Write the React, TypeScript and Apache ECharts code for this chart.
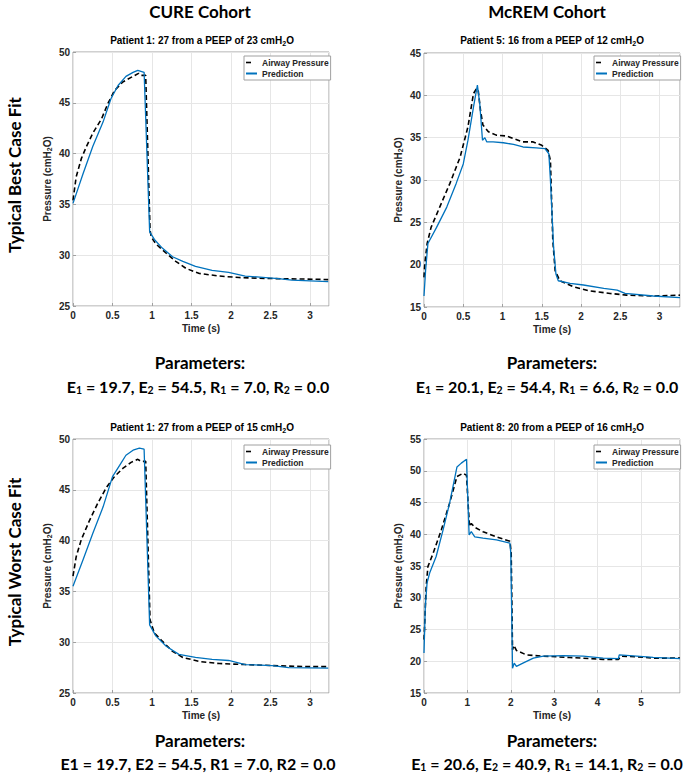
import React, { useEffect, useRef } from "react";
import * as echarts from "echarts";

// ---------- data ([time s, pressure cmH2O]) ----------
const cureBestAirway: [number, number][] = [
  [0, 35.4], [0.04, 37.7], [0.105, 39.5], [0.17, 40.7], [0.25, 42.0], [0.36, 43.4], [0.44, 44.9],
  [0.525, 46.2], [0.63, 47.05], [0.735, 47.5], [0.83, 47.9], [0.86, 47.7], [0.92, 47.7],
  [0.975, 32.5], [0.99, 31.8], [1.05, 31.1], [1.18, 30.2], [1.3, 29.4], [1.43, 28.7], [1.6, 28.2],
  [1.85, 27.95], [2.1, 27.8], [2.52, 27.7], [2.94, 27.65], [3.23, 27.6],
];
const cureBestPrediction: [number, number][] = [
  [0, 35.1], [0.126, 38.0], [0.25, 40.7], [0.38, 43.1], [0.48, 45.4], [0.57, 46.7], [0.67, 47.6],
  [0.76, 48.0], [0.82, 48.2], [0.9, 48.0], [0.97, 32.3], [1.03, 31.55], [1.13, 30.7], [1.26, 29.85],
  [1.39, 29.4], [1.55, 28.9], [1.76, 28.5], [1.97, 28.3], [2.18, 27.95], [2.44, 27.8], [2.6, 27.7],
  [2.77, 27.55], [3.23, 27.4],
];
const mcremBestAirway: [number, number][] = [
  [0, 18.5], [0.01, 20.1], [0.04, 22.5], [0.09, 24.4], [0.2, 26.8], [0.33, 29.6], [0.46, 32.7],
  [0.56, 36.3], [0.63, 40.2], [0.67, 40.8], [0.69, 40.6], [0.72, 38.2], [0.75, 36.5], [0.82, 35.7],
  [0.92, 35.3], [1.05, 35.2], [1.14, 34.9], [1.26, 34.5], [1.39, 34.5], [1.5, 34.1], [1.58, 33.5],
  [1.61, 32.3], [1.64, 22.9], [1.67, 19.3], [1.73, 18.1], [1.9, 17.4], [2.11, 16.9], [2.37, 16.6],
  [2.58, 16.4], [2.92, 16.3], [3.26, 16.4],
];
const mcremBestPrediction: [number, number][] = [
  [0, 16.3], [0.02, 19.3], [0.05, 22.5], [0.16, 24.4], [0.29, 26.8], [0.41, 29.6], [0.5, 31.9],
  [0.56, 34.7], [0.63, 38.6], [0.68, 41.2], [0.71, 39.0], [0.745, 34.7], [0.775, 35.0], [0.8, 34.5],
  [0.88, 34.5], [1.01, 34.4], [1.14, 34.2], [1.26, 33.9], [1.43, 33.8], [1.54, 33.7], [1.59, 33.1],
  [1.61, 30.0], [1.65, 22.1], [1.68, 18.9], [1.71, 18.1], [1.86, 17.8], [2.03, 17.6], [2.29, 17.2],
  [2.46, 17.0], [2.56, 16.6], [2.92, 16.3], [3.26, 16.1],
];
const cureWorstAirway: [number, number][] = [
  [0, 36.5], [0.04, 38.4], [0.105, 40.1], [0.21, 42.0], [0.315, 43.7], [0.42, 45.2], [0.525, 46.3],
  [0.63, 47.1], [0.735, 47.7], [0.82, 48.0], [0.86, 47.8], [0.92, 47.8], [0.975, 32.2], [1.03, 30.9],
  [1.13, 30.1], [1.26, 29.1], [1.39, 28.5], [1.6, 28.1], [1.85, 27.9], [2.18, 27.8], [2.52, 27.7],
  [2.94, 27.6], [3.23, 27.6],
];
const cureWorstPrediction: [number, number][] = [
  [0, 35.5], [0.126, 38.1], [0.25, 40.7], [0.38, 43.3], [0.5, 46.3], [0.59, 47.4], [0.67, 48.4],
  [0.76, 48.9], [0.84, 49.1], [0.9, 49.0], [0.97, 31.7], [1.05, 30.6], [1.18, 29.6], [1.34, 28.8],
  [1.55, 28.5], [1.76, 28.3], [1.97, 28.2], [2.18, 27.8], [2.52, 27.7], [2.73, 27.5], [3.23, 27.45],
];
const mcremWorstAirway: [number, number][] = [
  [0, 23.4], [0.02, 26.5], [0.05, 31.8], [0.09, 34.9], [0.21, 37.0], [0.4, 40.7], [0.59, 44.9],
  [0.76, 49.1], [0.9, 49.6], [0.98, 49.3], [1.02, 44.4], [1.05, 41.2], [1.09, 41.7], [1.17, 41.1],
  [1.36, 40.4], [1.67, 39.6], [1.98, 38.9], [2.01, 37.0], [2.04, 21.8], [2.07, 22.5], [2.13, 21.7],
  [2.36, 21.0], [2.75, 20.8], [3.36, 20.6], [4.13, 20.3], [4.48, 20.3], [4.55, 20.8], [4.9, 20.7],
  [5.28, 20.5], [5.9, 20.5],
];
const mcremWorstPrediction: [number, number][] = [
  [0, 21.3], [0.03, 28.6], [0.07, 32.3], [0.13, 33.9], [0.28, 36.5], [0.44, 40.7], [0.59, 44.9],
  [0.76, 50.6], [0.86, 51.2], [0.98, 51.8], [1.0, 47.5], [1.04, 39.9], [1.09, 40.4], [1.17, 39.6],
  [1.36, 39.4], [1.67, 39.1], [1.98, 38.6], [2.0, 37.0], [2.04, 18.9], [2.08, 19.7], [2.13, 19.2],
  [2.28, 19.7], [2.52, 20.5], [2.75, 20.8], [3.21, 20.9], [3.67, 20.8], [4.13, 20.5], [4.48, 20.4],
  [4.5, 21.0], [4.9, 20.8], [5.28, 20.6], [5.9, 20.4],
];

const columnTitles = ["CURE Cohort", "McREM Cohort"];
const rowTitles = ["Typical Best Case Fit", "Typical Worst Case Fit"];
const plotTitles = [
  "Patient 1: 27 from a PEEP of 23 cmH",
  "Patient 5: 16 from a PEEP of 12 cmH",
  "Patient 1: 27 from a PEEP of 15 cmH",
  "Patient 8: 20 from a PEEP of 16 cmH",
];
// parameters [E1, E2, R1, R2]
const params = [
  ["19.7", "54.5", "7.0", "0.0"],
  ["20.1", "54.4", "6.6", "0.0"],
  ["19.7", "54.5", "7.0", "0.0"],
  ["20.6", "40.9", "14.1", "0.0"],
];
const xMax = [3.24, 3.26, 3.24, 5.9];
const xInterval = [0.5, 0.5, 0.5, 1];
const yMin = [25, 15, 25, 15];
const yMax = [50, 45, 50, 55];
const seriesNames = ["Airway Pressure", "Prediction"];

const FONT = "'Liberation Sans', Arial, sans-serif";
const BIG = "Lato, 'Open Sans', sans-serif";
const AX = "#262626";
const BORDER = "#a0a0a0";

export default function App() {
  const ref = useRef<HTMLDivElement>(null);
  useEffect(() => {
    if (!ref.current) return;
    const chart = echarts.init(ref.current, undefined, { renderer: "svg" });

    const grids = [
      { left: 73, top: 52, width: 256, height: 254 },
      { left: 424, top: 53, width: 256, height: 254 },
      { left: 73, top: 439, width: 256, height: 254 },
      { left: 424, top: 439, width: 256, height: 254 },
    ];
    const legendPos = [
      { left: 244, top: 56 },
      { left: 594, top: 56 },
      { left: 244, top: 445 },
      { left: 594, top: 445 },
    ];
    const airway = [cureBestAirway, mcremBestAirway, cureWorstAirway, mcremWorstAirway];
    const pred = [cureBestPrediction, mcremBestPrediction, cureWorstPrediction, mcremWorstPrediction];

    const labelStyle = { color: AX, fontFamily: FONT, fontWeight: "bold" as const, fontSize: 10 };

    const xAxes = grids.map((_, i) => ({
      type: "value",
      gridIndex: i,
      min: 0,
      max: xMax[i],
      interval: xInterval[i],
      name: "Time (s)",
      nameLocation: "middle",
      nameGap: 17,
      nameTextStyle: { ...labelStyle },
      axisLine: { show: false },
      axisTick: { show: true, inside: true, length: 3, lineStyle: { color: BORDER } },
      axisLabel: { ...labelStyle, margin: 4, showMaxLabel: false },
      splitLine: { show: true, lineStyle: { color: "#e6e6e6", width: 1 } },
    }));
    const yAxes = grids.map((_, i) => ({
      type: "value",
      gridIndex: i,
      min: yMin[i],
      max: yMax[i],
      interval: 5,
      name: "{a|Pressure (cmH}{s|2}{a|O)}",
      nameLocation: "middle",
      nameRotate: 90,
      nameGap: 20,
      nameTextStyle: {
        rich: {
          a: { ...labelStyle },
          s: { ...labelStyle, fontSize: 7, padding: [5, 0, 0, 0] },
        },
      },
      axisLine: { show: false },
      axisTick: { show: true, inside: true, length: 3, lineStyle: { color: BORDER } },
      axisLabel: { ...labelStyle, margin: 3 },
      splitLine: { show: true, lineStyle: { color: "#e6e6e6", width: 1 } },
    }));

    const series: any[] = [];
    grids.forEach((_, i) => {
      series.push({
        name: seriesNames[0],
        type: "line",
        xAxisIndex: i,
        yAxisIndex: i,
        data: airway[i],
        symbol: "none",
        lineStyle: { color: "#000000", width: 1.6, type: [5, 3] },
        itemStyle: { color: "#000000" },
      });
      series.push({
        name: seriesNames[1],
        type: "line",
        xAxisIndex: i,
        yAxisIndex: i,
        data: pred[i],
        symbol: "none",
        lineStyle: { color: "#0072BD", width: 1.3 },
        itemStyle: { color: "#0072BD" },
      });
    });

    const legends = legendPos.map((p) => ({
      ...p,
      orient: "vertical",
      itemWidth: 11,
      itemHeight: 9,
      itemGap: 2,
      padding: [2, 2, 2, 1],
      backgroundColor: "#ffffff",
      borderColor: BORDER,
      borderWidth: 1,
      borderRadius: 0,
      selectedMode: false,
      itemStyle: { opacity: 0 },
      textStyle: { color: AX, fontFamily: FONT, fontWeight: "bold", fontSize: 8.5 },
      data: [
        { name: seriesNames[0], lineStyle: { type: [5, 20], width: 1.6 } },
        { name: seriesNames[1] },
      ],
    }));

    const graphics: any[] = [];
    const colX = [198, 547];
    const bigX = [200, 547];
    columnTitles.forEach((t, c) => {
      graphics.push({
        type: "text",
        x: bigX[c],
        y: 11,
        style: { text: t, fill: "#000", font: `bold 17px ${BIG}`, align: "center", verticalAlign: "middle" },
      });
    });
    const rowY = [175, 562];
    rowTitles.forEach((t, r) => {
      graphics.push({
        type: "text",
        x: 14,
        y: rowY[r],
        rotation: Math.PI / 2,
        style: { text: t, fill: "#000", font: `bold 17px ${BIG}`, align: "center", verticalAlign: "middle" },
      });
    });
    const subX = [202, 552, 202, 552];
    const subY = [40, 40, 427, 427];
    plotTitles.forEach((t, i) => {
      graphics.push({
        type: "text",
        x: subX[i],
        y: subY[i],
        style: {
          text: `{a|${t}}{s|2}{a|O}`,
          align: "center",
          verticalAlign: "middle",
          rich: {
            a: { fill: "#000", fontFamily: FONT, fontWeight: "bold", fontSize: 10 },
            s: { fill: "#000", fontFamily: FONT, fontWeight: "bold", fontSize: 7, padding: [6, 0, 0, 0] },
          },
        },
      });
    });
    const parY = [362, 362, 740, 740];
    const eY = [386, 386, 763, 763];
    params.forEach((p, i) => {
      const x = colX[i % 2];
      graphics.push({
        type: "text",
        x: i % 2 === 0 ? 200 : 552,
        y: parY[i],
        style: { text: "Parameters:", fill: "#000", font: `bold 17px ${BIG}`, align: "center", verticalAlign: "middle" },
      });
      const plain = i === 2;
      const sub = (n: string) => (plain ? `{t|${n}}` : `{s|${n}}`);
      const text =
        `{t|E}${sub("1")}{t| = ${p[0]}, E}${sub("2")}{t| = ${p[1]}, R}${sub("1")}{t| = ${p[2]}, R}${sub("2")}{t| = ${p[3]}}`;
      graphics.push({
        type: "text",
        x,
        y: eY[i],
        style: {
          text,
          align: "center",
          verticalAlign: "middle",
          rich: {
            t: { fill: "#000", fontFamily: BIG, fontWeight: "bold", fontSize: 16 },
            s: { fill: "#000", fontFamily: BIG, fontWeight: "bold", fontSize: 10.5, padding: [7, 0, 0, 0] },
          },
        },
      });
    });

    chart.setOption({
      animation: false,
      backgroundColor: "#ffffff",
      grid: grids.map((g) => ({ ...g, show: true, borderColor: BORDER, borderWidth: 1, backgroundColor: "#fff" })),
      xAxis: xAxes,
      yAxis: yAxes,
      legend: legends,
      series,
      graphic: graphics,
    });
    return () => chart.dispose();
  }, []);
  return (
    <div
      ref={ref}
      style={{ position: "absolute", left: 0, top: 0, width: 685, height: 783, background: "#fff" }}
    />
  );
}
